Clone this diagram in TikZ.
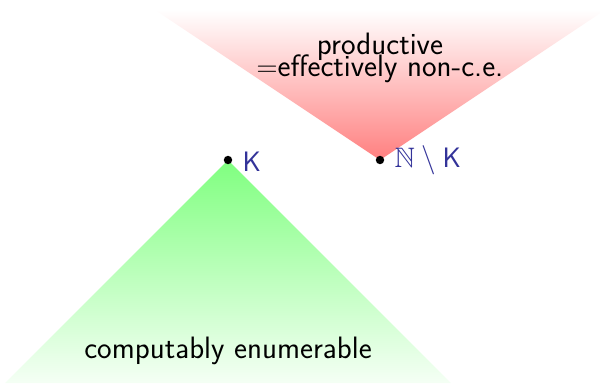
\documentclass[tikz,border=0pt]{standalone}
\usepackage{amssymb}
\renewcommand{\familydefault}{\sfdefault}
\definecolor{lbl}{RGB}{51,51,153}
\begin{document}
\begin{tikzpicture}[x=0.025cm,y=-0.025cm,
  dot/.style={circle,fill=black,inner sep=0pt,minimum size=6pt},
  lab/.style={text=lbl,font=\fontsize{20}{24}\selectfont,inner sep=1pt,anchor=west},
  txt/.style={font=\fontsize{22}{16.4}\selectfont,align=center,inner sep=0pt}]
\useasboundingbox (0,0) rectangle (600,390);
\shade[top color=white,bottom color=red!50] (155,10) -- (605,10) -- (380,160) -- cycle;
\shade[top color=green!50,bottom color=green!4] (228,160) -- (451,383) -- (5,383) -- cycle;
\node[dot] (k) at (228,160) {};
\node[dot] (nk) at (380,160) {};
\node[lab] (kl) at (241,162) {\textsf{K}};
\node[lab] (nkl) at (393,160) {$\mathbb{N}\setminus\textsf{K}$};
\node[txt] (prod) at (380,58) {productive\\[-5.5pt]$=$effectively non-c.e.};
\node[txt] (ce) at (228,351) {computably enumerable};
\end{tikzpicture}
\end{document}
